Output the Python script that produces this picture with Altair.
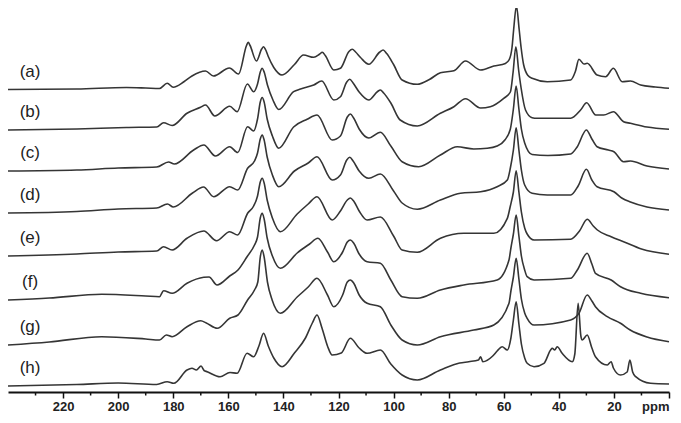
import altair as alt
import pandas as pd

# ---- data (ppm, intensity above each trace's own baseline) ----
trace_a = [(240, 0), (215, 0.5), (197, 2), (190, 1.5), (185, 1), (182.2, 6.2), (180, 2.2), (176, 8),
           (173.2, 13.5), (168.3, 18.5), (165.4, 13.5), (159.6, 21.5), (156.3, 15.5), (153.4, 44), (152.8, 47.2),
           (152.1, 44), (149.8, 28.5), (147.9, 40.5), (147.2, 42.8), (146.5, 40), (145.5, 33), (143.5, 22),
           (140.5, 14.5), (136, 25), (132.7, 34.5), (129, 32.2), (126.8, 35.5), (125.9, 37.2), (124.8, 34),
           (121.7, 19.5), (119.3, 21.2), (116.2, 38), (115, 40.2), (113.8, 37.5), (112, 32), (109, 25.2),
           (105, 37.5), (103.8, 39.5), (102.5, 36), (100, 25), (96.9, 9.5), (91.4, 5.2), (87, 10), (83, 16.8),
           (78.1, 18.8), (73.9, 28.5), (68.4, 19.5), (63.6, 23.5), (59.4, 26), (58.0, 30), (57.0, 42), (56.4, 60),
           (55.4, 83.5), (54.4, 60), (53.7, 42), (52.8, 25), (51.2, 14), (49.7, 11.2), (44.2, 7.8),
           (35.7, 9.5), (34, 18), (32.7, 30.2), (30.9, 25.5), (29.7, 26.2), (26.1, 14.5), (23, 12.8),
           (20.2, 21.2), (17, 7.8), (14, 8.5), (10.3, 4.5), (5, 2.5), (0, 1.2)]

trace_b = [(240, 0), (215, 1), (197, 2.5), (186, 3), (183.5, 7.3), (180.4, 4.5), (175, 16.7), (170.1, 22.7),
           (168.3, 25), (164.9, 14), (159.5, 23.7), (156.8, 18.3), (153.1, 46), (150.8, 38.3), (149.4, 46),
           (148.4, 58), (147.7, 61.7), (147.0, 58), (145.8, 45), (143.8, 30), (141.7, 20.5), (136.3, 38.3),
           (133.8, 41), (129, 45), (126.1, 49), (121.7, 30), (119.3, 33.3), (117, 48), (115.9, 50.7),
           (114.7, 47), (112.5, 38), (109, 30), (105.8, 38.5), (104.8, 40), (103.6, 37), (101, 27), (97.6, 10),
           (91.4, 4), (83, 16.7), (78.1, 23.3), (73.9, 31.3), (68.4, 22), (64.9, 23.3), (60, 31.7), (57.6, 38),
           (56.6, 58), (55.6, 83.3), (54.6, 60), (53.7, 42), (52.1, 20), (49.7, 12.3), (47.9, 11.7), (35.7, 11.7),
           (32.1, 20), (29.9, 27.3), (26.6, 15), (23.7, 15), (20.2, 18.3), (16.5, 8.3), (14, 6.7), (8, 3),
           (0, 0.7)]

trace_c = [(240, 0), (215, 1), (200, 3), (186, 4), (181.7, 9), (179.6, 7), (172.6, 21), (168.9, 26),
           (164.7, 15), (159.5, 24.3), (156.6, 18.5), (153, 44.3), (150.8, 40), (149.4, 52), (148.4, 69),
           (147.7, 73.5), (147.0, 69), (145.9, 52), (144, 35), (141.7, 22.7), (136.3, 44), (131.4, 51.7),
           (127.8, 56), (122.3, 31), (119.3, 35), (116.8, 54), (115.7, 57), (114.5, 53), (112.5, 42), (109, 33),
           (104.8, 38.7), (101, 25), (96.9, 9.3), (90.9, 4.3), (83, 16), (76.9, 24.3), (70.9, 22), (66, 22.7),
           (62.4, 25), (59.6, 31), (57.6, 42), (56.5, 62), (55.5, 85), (54.5, 62), (53.6, 42), (52.4, 28),
           (49.7, 16.5), (44, 15.5), (35.7, 17), (33.3, 24.3), (30, 41), (28, 32), (26.1, 24.3), (22, 21),
           (20, 19.3), (16.5, 9.3), (14, 10), (8, 5), (0, 2)]

trace_d = [(240, 0), (215, 1.5), (200, 4), (186, 5), (182.1, 9), (180, 6), (173, 20), (169, 26),
           (165.3, 16.3), (159.5, 26.3), (156.6, 23), (153, 44.7), (150.5, 52), (149.4, 60), (148.4, 74),
           (147.7, 78), (147.0, 73), (145.9, 56), (144, 38), (141.7, 26.3), (136, 42), (131, 50), (127.8, 56.3),
           (122.3, 33), (119.3, 38), (117, 53), (115.9, 55.7), (114.7, 52), (112.5, 42), (109, 34.7),
           (104.8, 39), (100, 22), (96.9, 10), (91.4, 3.7), (83, 13), (75.7, 19.7), (68.4, 21.3), (62.4, 26.3),
           (58.7, 33), (57.6, 45), (56.5, 63), (55.5, 85.3), (54.5, 63), (53.6, 43), (52.4, 28), (49.7, 19.7),
           (44.2, 18), (35.7, 18), (33, 27), (30, 43.7), (28, 33), (26.1, 26.3), (20, 21.3), (17, 14.7),
           (14, 11), (8, 6), (0, 3)]

trace_e = [(240, 0), (215, 2), (200, 4), (186, 5), (183.5, 9.3), (180.4, 6), (175, 17.7), (168.9, 25),
           (164.3, 15.3), (159.5, 24.3), (156.6, 21), (153, 42.7), (150.8, 50), (149.4, 60), (148.4, 74),
           (147.7, 77.7), (147.0, 73), (145.9, 56), (144, 38), (141.1, 24.3), (135, 42), (131, 52),
           (127.8, 59.3), (122.3, 36), (119.3, 45), (116.8, 56), (115.7, 58), (114.5, 55), (112.5, 45),
           (109.6, 36), (104.8, 39), (100, 20), (96.9, 6), (91.4, 3.7), (83, 17.7), (74.5, 22.7), (63.6, 22.7),
           (58.7, 37.7), (57.6, 50), (56.5, 64), (55.5, 85.3), (54.5, 64), (53.6, 44), (52.4, 28), (51.5, 22),
           (49, 16), (35.7, 16.7), (32.5, 25), (29.7, 36.7), (27.5, 30), (26, 26), (21, 19.3), (16.5, 14.3),
           (10, 7), (0, 1.7)]

trace_f = [(240, 0), (225, 2), (206, 5.7), (190, 4), (185, 3.3), (183.5, 9.3), (180.4, 6.7), (175, 16.7),
           (168.9, 22.7), (167, 23), (164.1, 15), (159.5, 24), (156.5, 30), (153.2, 43.3), (150.5, 55),
           (149.4, 63), (148.4, 82), (147.7, 86.7), (147.0, 81), (145.9, 62), (144, 44), (141.1, 31.7), (135, 47),
           (130.5, 56), (127.5, 61.7), (124, 48), (121.7, 38.3), (118.5, 48), (116.8, 58), (115.7, 60),
           (114.5, 57), (112.5, 46), (109.6, 38.3), (104.8, 36.7), (101, 20), (96.9, 3.3), (91.4, 1.7), (83, 10),
           (74.5, 15), (62.4, 20), (58.1, 40), (57.4, 52), (56.5, 66), (55.5, 85), (54.5, 64), (53.6, 44),
           (52.4, 30), (51.5, 23.3), (49, 20), (35.7, 21.7), (33.3, 30), (29.7, 46.7), (28, 36), (26.7, 26.7),
           (21, 20), (17.6, 13.3), (10.3, 6.7), (0, 2.3)]

trace_g = [(240, 0), (225, 3), (206, 8.3), (190, 6), (185, 5), (182.5, 10), (180.4, 8.3), (175, 18.3),
           (170, 24.3), (168, 22), (164, 16.7), (159.5, 26.7), (156.5, 30), (153, 45), (150.5, 55),
           (149.3, 63), (148.4, 88), (147.7, 95), (147.0, 88), (145.8, 63), (144.1, 45), (141.1, 31.7), (135, 48),
           (131, 58), (127.8, 66.7), (124, 50), (121.7, 38.3), (118.5, 50), (116.8, 63), (115.7, 65),
           (114.5, 62), (112.5, 50), (109.6, 41.7), (104.8, 38.3), (101, 20), (96.9, 5), (91.4, 0), (83, 8.3),
           (70.9, 15), (63.6, 20), (58.1, 41.7), (57.4, 54), (56.5, 68), (55.5, 86.7), (54.5, 66), (53.6, 46),
           (52.4, 32), (51.5, 26.7), (49, 20), (35.7, 25), (32.7, 31.7), (29.7, 50), (28, 44), (26.7, 38.3),
           (22.4, 28.3), (17.6, 21.7), (14.1, 15), (8, 8), (0, 3.3)]

trace_h = [(240, 0), (215, 1.5), (200, 3), (186, 1.5), (182.2, 4.3), (179.8, 2.7), (175, 16), (173.2, 17.7),
           (171.6, 16), (169.9, 20), (168.8, 15.5), (167.7, 14.3), (163, 9.3), (159.4, 13.5), (156.8, 12.7),
           (153.2, 32.7), (150.8, 29.3), (148.9, 40), (147.2, 52.7), (145.5, 40), (143.5, 28), (140.5, 19.3),
           (136, 33), (132, 48), (129.5, 63), (127.8, 71), (126, 58), (124, 40), (122.3, 31), (119, 33),
           (115.7, 47.7), (112.5, 38), (109.6, 32.7), (104.8, 36), (101, 22), (96.9, 11), (91.4, 6), (83, 16),
           (76, 23), (72.7, 24.3), (69.2, 26), (68.4, 29.3), (67.6, 24.3), (64, 30), (62.4, 35), (60.6, 39.3),
           (58.7, 36), (57.4, 48), (56.5, 66), (55.5, 84.3), (54.5, 62), (53.6, 42), (52.4, 28), (51.5, 22.7),
           (49, 19.3), (45.4, 22.7), (43, 36), (42.4, 37.7), (41.5, 36), (40.6, 39.3), (38.8, 32.7),
           (35.1, 24.3), (34.2, 32), (33, 82.7), (32, 50), (31.5, 46), (29.7, 51), (28, 38), (26.7, 29.3),
           (22.4, 21), (21, 24.3), (20.2, 18), (17.6, 11), (15.2, 14), (14.2, 26), (13.2, 14), (12.1, 9.3),
           (6.7, 2.7), (0, 2)]

trace_names = ["(a)", "(b)", "(c)", "(d)", "(e)", "(f)", "(g)", "(h)"]
trace_offsets = [302.5, 262, 221, 179, 136, 92, 47, 6]   # vertical stacking offset of each spectrum
traces = [trace_a, trace_b, trace_c, trace_d, trace_e, trace_f, trace_g, trace_h]

major_ticks = [220, 200, 180, 160, 140, 120, 100, 80, 60, 40, 20, 0]
minor_ticks = [230, 210, 190, 170, 150, 130, 110, 90, 70, 50, 30, 10]
x_unit = "ppm"

# ---- build tables ----
rows = []
for name, off, tr in zip(trace_names, trace_offsets, traces):
    for ppm, val in tr:
        rows.append({"trace": name, "ppm": ppm, "value": val + off})
df = pd.DataFrame(rows)

label_ppm = 232
label_lift = 18
labels = pd.DataFrame({"trace": trace_names,
                       "ppm": [label_ppm] * len(trace_names),
                       "value": [o + label_lift for o in trace_offsets]})
minor_df = pd.DataFrame({"ppm": minor_ticks})

W, H = 661, 384
x_scale = alt.Scale(domain=[240, 0], nice=False, zero=False)
y_scale = alt.Scale(domain=[0, 384], nice=False, zero=False)

x_axis = alt.Axis(
    values=major_ticks,
    labelExpr="datum.value == 0 ? '' : datum.label",
    title=x_unit, titleX=W, titleY=8, titleAlign="right", titleBaseline="top",
    titleFont="Liberation Sans", titleFontWeight="bold", titleFontSize=13, titleColor="#222",
    grid=False,
    domainColor="#111", domainWidth=2,
    tickColor="#111", tickWidth=1.5, tickSize=6,
    labelFont="Liberation Sans", labelFontWeight="bold", labelFontSize=13, labelColor="#222",
    labelPadding=2, labelFlush=False, labelOverlap=False,
)

lines = alt.Chart(df).mark_line(interpolate="monotone", color="#353535", strokeWidth=1.6).encode(
    x=alt.X("ppm:Q", scale=x_scale, axis=x_axis),
    y=alt.Y("value:Q", scale=y_scale, axis=None),
    detail="trace:N",
    order=alt.Order("ppm:Q", sort="descending"),
)

minor = alt.Chart(minor_df).mark_rule(color="#111", strokeWidth=1.5).encode(
    x=alt.X("ppm:Q", scale=x_scale),
    y=alt.value(H),
    y2=alt.value(H + 3.5),
)

text = alt.Chart(labels).mark_text(font="Liberation Sans", fontSize=17, color="#222",
                                   align="center", baseline="middle").encode(
    x=alt.X("ppm:Q", scale=x_scale),
    y=alt.Y("value:Q", scale=y_scale),
    text="trace:N",
)

chart = alt.layer(lines, minor, text).properties(
    width=W, height=H,
    padding={"left": 0, "top": 0, "right": 4, "bottom": 24},
    autosize=alt.AutoSizeParams(type="none"),
    background="white",
).configure_view(stroke=None)

chart.save("out.html", embed_options={"renderer": "svg", "actions": False})
